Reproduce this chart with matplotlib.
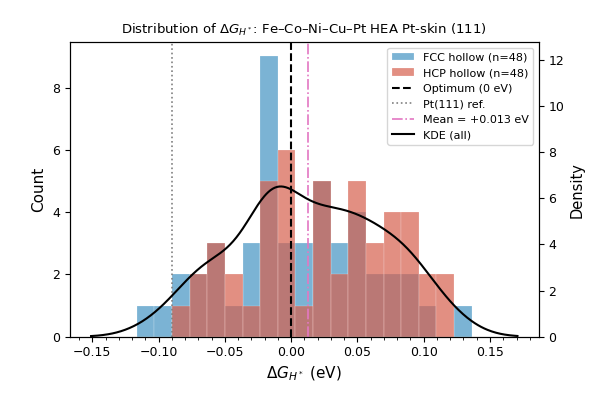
import numpy as np
import matplotlib
matplotlib.use("Agg")
import matplotlib.pyplot as plt
from matplotlib.ticker import AutoMinorLocator

# histogram bins (eV) and counts per site type
bin_lo, bin_hi, n_bins = -0.1164, 0.1362, 19
fcc_counts = [1, 1, 2, 2, 3, 1, 3, 9, 3, 3, 5, 3, 4, 2, 2, 2, 1, 0, 1]
hcp_counts = [0, 0, 1, 2, 3, 2, 1, 5, 6, 1, 5, 2, 5, 3, 4, 4, 2, 2, 0]
pt111_ref = -0.09
mean_dg = 0.013
kde_bw = 0.019
kde_cut = 0.0345

edges = np.linspace(bin_lo, bin_hi, n_bins + 1)
centers = 0.5 * (edges[:-1] + edges[1:])

# KDE over all sites (bin centres weighted by counts)
all_counts = np.array(fcc_counts) + np.array(hcp_counts)
samples = np.repeat(centers, all_counts)
xs = np.linspace(bin_lo - kde_cut, bin_hi + kde_cut, 400)
dens = np.exp(-0.5 * ((xs[:, None] - samples[None, :]) / kde_bw) ** 2).sum(axis=1)
dens /= len(samples) * kde_bw * np.sqrt(2 * np.pi)

fig = plt.figure(figsize=(5.96, 3.97), dpi=100)
ax = fig.add_subplot(111)
fig.subplots_adjust(left=0.117, right=0.904, top=0.893, bottom=0.152)

ax.hist(edges[:-1], bins=edges, weights=fcc_counts, color="#4393c3", alpha=0.7,
        edgecolor="white", linewidth=0.2, label="FCC hollow (n=48)")
ax.hist(edges[:-1], bins=edges, weights=hcp_counts, color="#d6604d", alpha=0.7,
        edgecolor="white", linewidth=0.2, label="HCP hollow (n=48)")
ax.axvline(0, color="black", ls="--", lw=1.5, label="Optimum (0 eV)")
ax.axvline(pt111_ref, color="gray", ls=":", lw=1.2, label="Pt(111) ref.")
ax.axvline(mean_dg, color="#e377c2", ls="-.", lw=1.2,
           label="Mean = %+.3f eV" % mean_dg)

ax2 = ax.twinx()
ax2.plot(xs, dens, color="black", lw=1.5, label="KDE (all)")
ax2.set_ylim(0, 12.75)

ax.set_xlabel(r"$\Delta G_{H^*}$ (eV)", fontsize=11)
ax.set_ylabel("Count", fontsize=11)
ax2.set_ylabel("Density", fontsize=10.5)
ax.set_title(r"Distribution of $\Delta G_{H^*}$: Fe–Co–Ni–Cu–Pt HEA Pt-skin (111)",
             fontsize=9.5)
ax.xaxis.set_minor_locator(AutoMinorLocator())
ax.tick_params(labelsize=9)
ax2.tick_params(labelsize=9)

h1, l1 = ax.get_legend_handles_labels()
h2, l2 = ax2.get_legend_handles_labels()
ax2.legend(h1 + h2, l1 + l2, loc="upper right", fontsize=8)

fig.savefig("out.png", dpi=100)
